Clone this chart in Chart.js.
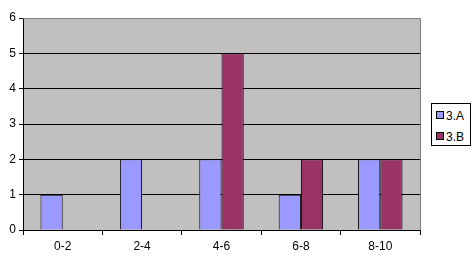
<!DOCTYPE html>
<html>
<head>
<meta charset="utf-8">
<script src="https://cdn.jsdelivr.net/npm/chart.js@4"></script>
<style>
  html, body { margin: 0; padding: 0; background: #fff; }
  #wrap { position: relative; width: 476px; height: 263px; }
  #legend {
    position: absolute; left: 431px; top: 103px; width: 38px; height: 41px;
    border: 1px solid #000; background: #fff;
    font-family: "Liberation Sans", Arial, sans-serif; font-size: 12px;
  }
  .item { position: absolute; left: 4px; height: 14px; line-height: 14px; }
  .sw { display: inline-block; width: 6px; height: 6px; border: 1px solid #000; margin-right: 2px; vertical-align: 1px; }
</style>
</head>
<body>
<div id="wrap">
  <canvas id="chart" width="476" height="263"></canvas>
  <div id="legend"></div>
</div>
<script>
// categories and series
const categories = ["0-2", "2-4", "4-6", "6-8", "8-10"];
const seriesA = [1, 2, 2, 1, 2];
const seriesB = [null, null, 5, 2, 2];
const seriesNames = ["3.A", "3.B"];
const seriesColors = ["#9999FF", "#993366"];

// Gray plot background and gray frame on top/right
const plotBackground = {
    id: "plotBackground",
    beforeDraw(chart) {
        const {ctx, chartArea: a} = chart;
        ctx.save();
        ctx.fillStyle = "#C0C0C0";
        ctx.fillRect(a.left, a.top, a.right - a.left, a.bottom - a.top);
        ctx.restore();
    },
    afterDraw(chart) {
        const {ctx, chartArea: a} = chart;
        ctx.save();
        ctx.strokeStyle = "#808080";
        ctx.lineWidth = 1;
        ctx.beginPath();
        ctx.moveTo(a.left, a.top + 0.5);
        ctx.lineTo(a.right + 0.5, a.top + 0.5);
        ctx.lineTo(a.right + 0.5, a.bottom);
        ctx.stroke();
        ctx.restore();
    }
};

const font = {family: "'Liberation Sans', Arial, sans-serif", size: 12};

new Chart(document.getElementById("chart"), {
    type: "bar",
    data: {
        labels: categories,
        datasets: [
            {label: seriesNames[0], data: seriesA, backgroundColor: seriesColors[0], borderColor: "#000", borderWidth: 1},
            {label: seriesNames[1], data: seriesB, backgroundColor: seriesColors[1], borderColor: "#000", borderWidth: 1}
        ]
    },
    options: {
        responsive: false,
        animation: false,
        layout: {padding: {left: 0, top: 18, right: 56, bottom: 0}},
        plugins: {legend: {display: false}, tooltip: {enabled: false}},
        datasets: {bar: {categoryPercentage: 0.56, barPercentage: 1}},
        scales: {
            x: {
                afterFit: s => { s.height = 33; },
                grid: {offset: true, drawOnChartArea: false, drawTicks: true, tickLength: 5, tickColor: "#000"},
                border: {color: "#000"},
                ticks: {color: "#000", font: font, padding: 4}
            },
            y: {
                min: 0, max: 6,
                afterFit: s => { s.width = 23; },
                grid: {
                    color: c => c.tick.value === 6 ? "#808080" : "#000",
                    tickColor: "#000", tickLength: 4
                },
                border: {color: "#000"},
                ticks: {stepSize: 1, color: "#000", font: font, padding: 3}
            }
        }
    },
    plugins: [plotBackground]
});

// HTML legend box on the right
const legend = document.getElementById("legend");
seriesNames.forEach((name, i) => {
    const item = document.createElement("div");
    item.className = "item";
    item.style.top = (5 + i * 21) + "px";
    item.innerHTML = `<span class="sw" style="background:${seriesColors[i]}"></span>${name}`;
    legend.appendChild(item);
});
</script>
</body>
</html>
